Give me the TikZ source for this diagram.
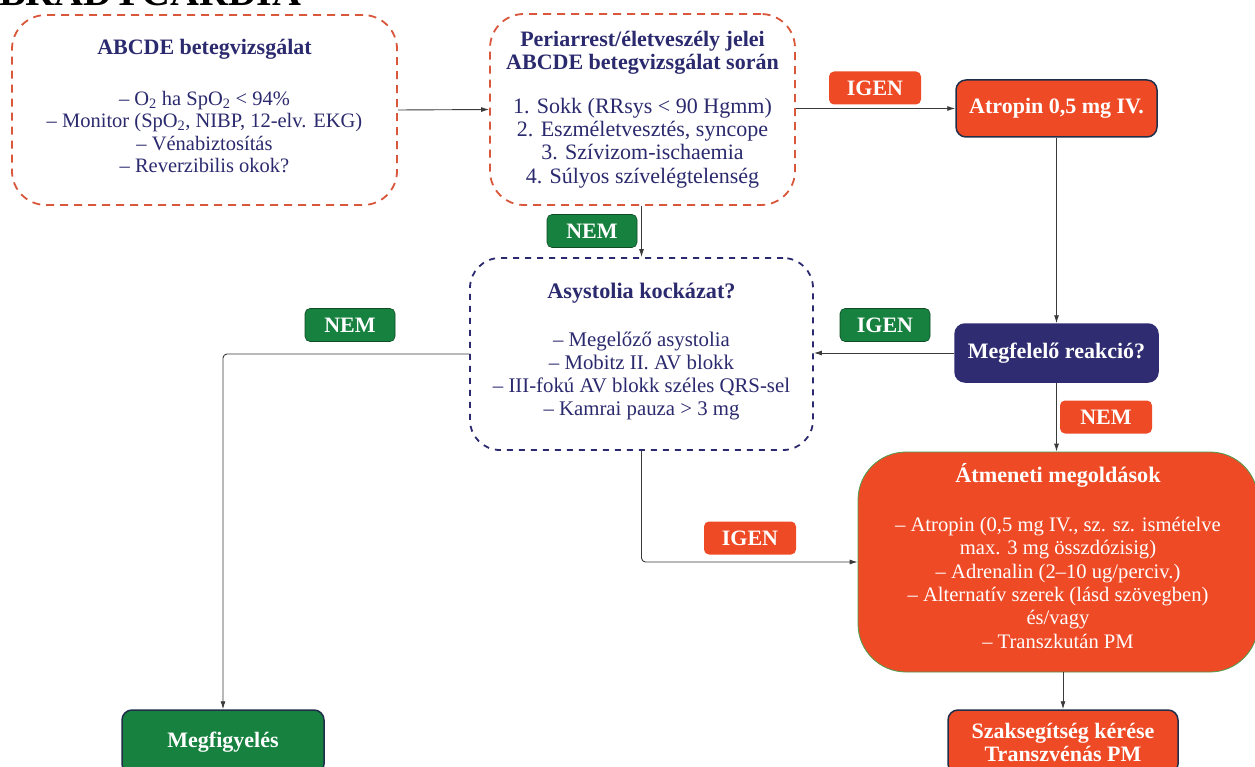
\documentclass[tikz,border=0pt]{standalone}
\usepackage{fontspec}
\setmainfont{Liberation Serif}
\usetikzlibrary{arrows.meta}
\definecolor{dorange}{HTML}{D9573B}
\definecolor{navytxt}{HTML}{2B2A6E}
\definecolor{navyfill}{HTML}{2F2C72}
\definecolor{redfill}{HTML}{EE4A26}
\definecolor{greenfill}{HTML}{17813F}
\definecolor{darkborder}{HTML}{1F2F4A}
\definecolor{arrowgray}{HTML}{3A3A3A}
\tikzset{
  dashbox/.style={rounded corners=34pt, line width=1.8pt, dash pattern=on 8pt off 6pt, inner sep=0pt},
  boxtext/.style={align=center, text=navytxt, inner sep=0pt},
  solidbox/.style={rounded corners=10pt, line width=1.5pt, draw=darkborder, align=center, text=white, font=\fontsize{22}{23}\selectfont\bfseries, inner sep=0pt},
  tagred/.style={fill=redfill, rounded corners=5pt, text=white, font=\fontsize{22}{22}\selectfont\bfseries, minimum width=92pt, minimum height=33pt, inner sep=0pt},
  taggreen/.style={fill=greenfill, draw=greenfill!60!black, line width=0.6pt, rounded corners=5pt, text=white, font=\fontsize{22}{22}\selectfont\bfseries, minimum width=90pt, minimum height=33pt, inner sep=0pt},
  arr/.style={draw=arrowgray, line width=0.9pt, -{Latex[length=8pt,width=5pt]}}
}
\begin{document}
\begin{tikzpicture}[x=1pt,y=-1pt]
\useasboundingbox (0,0) rectangle (1255,767);
\clip (0,0) rectangle (1255,767);
\fill[white] (0,0) rectangle (1255,767);

\node[anchor=base west, font=\fontsize{40}{40}\selectfont\bfseries, inner sep=0pt] (title) at (-1,6) {BRADYCARDIA};

% ABCDE box
\node[dashbox, draw=dorange, minimum width=385pt, minimum height=190pt] (abcde) at (204.5,110) {};
\node[boxtext, font=\fontsize{20.5}{22.4}\selectfont] (abcdeT) at ([yshift=4pt]abcde.center)
 {{\fontsize{22}{22}\selectfont\bfseries ABCDE betegvizsgálat}\\[28.5pt]
  – O\textsubscript{2} ha SpO\textsubscript{2} < 94\%\\
  – Monitor (SpO\textsubscript{2}, NIBP, 12-elv. EKG)\\
  – Vénabiztosítás\\
  – Reverzibilis okok?};

% Periarrest box
\node[dashbox, draw=dorange, minimum width=305pt, minimum height=191pt] (peri) at (642.5,109.5) {};
\node[boxtext, font=\fontsize{22}{23.3}\selectfont] (periT) at ([yshift=0pt]peri.center)
 {\textbf{Periarrest/életveszély jelei}\\
  \textbf{ABCDE betegvizsgálat során}\\[20.5pt]
  1. Sokk (RRsys < 90 Hgmm)\\
  2. Eszméletvesztés, syncope\\
  3. Szívizom-ischaemia\\
  4. Súlyos szívelégtelenség};

\node[solidbox, fill=redfill, minimum width=201pt, minimum height=57pt] (atropin) at (1056.5,108.5) {Atropin 0,5 mg IV.};

% Asystolia box
\node[dashbox, draw=navytxt, dash pattern=on 6pt off 6pt, rounded corners=30pt, minimum width=343pt, minimum height=192pt] (asys) at (641.5,354) {};
\node[boxtext, font=\fontsize{20.8}{23}\selectfont] (asysT) at ([yshift=2.5pt]asys.center)
 {{\fontsize{22.2}{22}\selectfont\bfseries Asystolia kockázat?}\\[25pt]
  – Megelőző asystolia\\
  – Mobitz II. AV blokk\\
  – III-fokú AV blokk széles QRS-sel\\
  – Kamrai pauza > 3 mg};

\node[solidbox, fill=navyfill, draw=navyfill, minimum width=203pt, minimum height=58pt] (meg) at (1056.5,353) {Megfelelő reakció?};

% Atmeneti box
\node[rounded corners=48pt, fill=redfill, draw=green!45!black!70, line width=0.8pt, inner sep=0pt, minimum width=400pt, minimum height=220pt] (atm) at (1058,562) {};
\node[boxtext, text=white, font=\fontsize{20.6}{23.4}\selectfont] (atmT) at ([yshift=6pt]atm.center)
 {{\fontsize{22.2}{22}\selectfont\bfseries Átmeneti megoldások}\\[25.5pt]
  – Atropin (0,5 mg IV., sz. sz. ismételve\\
  max. 3 mg összdózisig)\\
  – Adrenalin (2–10 ug/perciv.)\\
  – Alternatív szerek (lásd szövegben)\\
  és/vagy\\
  – Transzkután PM};

\node[solidbox, fill=redfill, minimum width=230pt, minimum height=64pt] (szak) at (1063,742)
 {Szaksegítség kérése\\Transzvénás PM};

\node[solidbox, fill=greenfill, minimum width=202pt, minimum height=64pt] (megf) at (223,742) {\raisebox{3pt}{Megfigyelés}};

\node[tagred] (igen1) at (875,88) {IGEN};
\node[taggreen] (nem1) at (592,231) {NEM};
\node[taggreen] (igen2) at (885,325) {IGEN};
\node[tagred] (nem2) at (1106,417) {NEM};
\node[taggreen] (nem3) at (350,325) {NEM};
\node[tagred] (igen3) at (750,538) {IGEN};

\draw[arr] (abcde.east) -- (peri.west);
\draw[arr] (peri.east |- atropin.west) -- (atropin.west);
\draw[arr] (peri.south -| asys.north) -- (asys.north);
\draw[arr] (atropin.south) -- (meg.north);
\draw[arr] (meg.west) -- (meg.west -| asys.east);
\draw[arr] (meg.south) -- (meg.south |- atm.north);
\draw[arr] (atm.south -| szak.north) -- (szak.north);
\draw[arr, rounded corners=4pt] (asys.west) -| (megf.north);
\draw[arr, rounded corners=4pt] (asys.south) |- (atm.west);
\end{tikzpicture}
\end{document}
